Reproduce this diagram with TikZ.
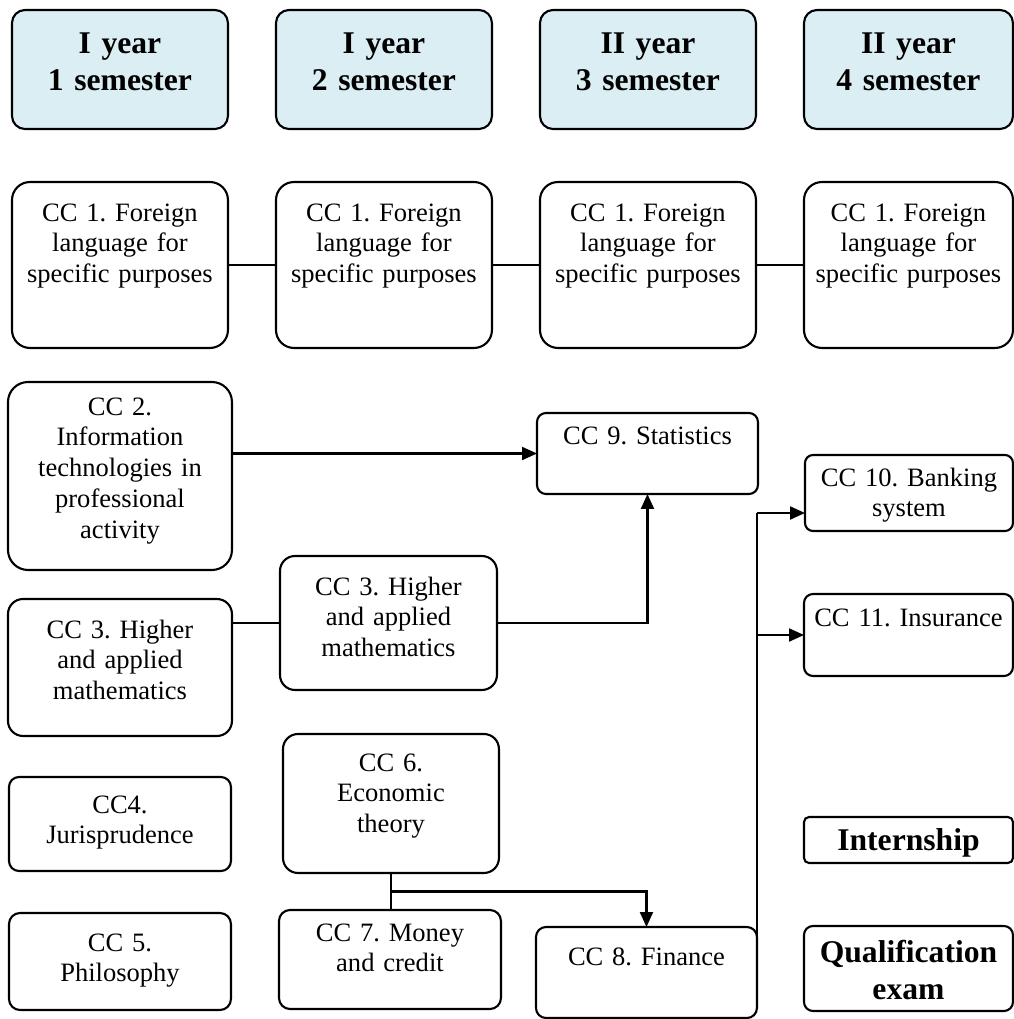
\documentclass[tikz,border=0pt]{standalone}
\usepackage{fontspec}
\setmainfont{Liberation Serif}
\frenchspacing
\usetikzlibrary{arrows.meta,calc}
\definecolor{headblue}{RGB}{218,238,243}

\begin{document}
\begin{tikzpicture}[x=0.02cm,y=-0.02cm,
  subj/.style={draw, line width=1.2pt, rounded corners=0.3cm, anchor=north west,
    inner sep=0pt, outer sep=0pt, align=center, font=\fontsize{15.1}{17.6}\selectfont},
  strong/.style={font=\fontsize{18}{21.5}\selectfont\bfseries},
  head/.style={subj, strong, fill=headblue, text width=4.32cm, text height=0.86cm,
    text depth=1.52cm, rounded corners=0.26cm},
  lang/.style={subj, text width=4.32cm, text height=0.78cm, text depth=2.54cm,
    rounded corners=0.36cm},
  link/.style={line width=1.2pt},
  flow/.style={link, -{Triangle[length=0.3cm, width=0.26cm]}}]
\useasboundingbox (0,0) rectangle (1014,1019);
% semesters
\node[head] (yr1) at (12,10) {I year\\1 semester};
\node[head] (yr2) at (276,10) {I year\\2 semester};
\node[head] (yr3) at (540,10) {II year\\3 semester};
\node[head, text width=4.18cm] (yr4) at (804,10) {II year\\4 semester};
% foreign language row
\node[lang] (lang1) at (12,182) {CC 1. Foreign\\language for\\specific purposes};
\node[lang] (lang2) at (276,182) {CC 1. Foreign\\language for\\specific purposes};
\node[lang] (lang3) at (540,182) {CC 1. Foreign\\language for\\specific purposes};
\node[lang, text width=4.18cm] (lang4) at (804,182) {CC 1. Foreign\\language for\\specific purposes};
\draw[link] (lang1) -- (lang2);
\draw[link] (lang2) -- (lang3);
\draw[link] (lang3) -- (lang4);
% first column
\node[subj, text width=4.48cm, text height=0.66cm, text depth=3.10cm, rounded corners=0.4cm]
  (it) at (8,382) {CC 2.\\Information\\technologies in\\professional\\activity};
\node[subj, text width=4.48cm, text height=0.78cm, text depth=1.96cm]
  (mathA) at (8,599) {CC 3. Higher\\and applied\\mathematics};
\node[subj, text width=4.44cm, text height=0.72cm, text depth=1.16cm, rounded corners=0.2cm]
  (law) at (9,777) {CC4.\\Jurisprudence};
\node[subj, text width=4.44cm, text height=0.76cm, text depth=1.18cm, rounded corners=0.22cm]
  (phil) at (9,913) {CC 5.\\Philosophy};
% second column
\node[subj, text width=4.34cm, text height=0.78cm, text depth=1.90cm]
  (mathB) at (280,556) {CC 3. Higher\\and applied\\mathematics};
\node[subj, text width=4.32cm, text height=0.74cm, text depth=2.04cm]
  (econ) at (283,734) {CC 6.\\Economic\\theory};
\node[subj, text width=4.44cm, text height=0.62cm, text depth=1.36cm, rounded corners=0.22cm]
  (money) at (279,910) {CC 7. Money\\and credit};
% third column
\node[subj, text width=4.42cm, text height=0.62cm, text depth=1.00cm, rounded corners=0.18cm]
  (stat) at (537,413) {CC 9. Statistics};
\node[subj, text width=4.42cm, text height=0.76cm, text depth=1.06cm, rounded corners=0.2cm]
  (fin) at (536,927) {CC 8. Finance};
% fourth column
\node[subj, text width=4.16cm, text height=0.62cm, text depth=0.90cm, rounded corners=0.16cm]
  (bank) at (805,455) {CC 10. Banking\\system};
\node[subj, text width=4.18cm, text height=0.64cm, text depth=1.00cm, rounded corners=0.18cm]
  (insur) at (804,594) {CC 11. Insurance};
\node[subj, strong, text width=4.18cm, text height=0.66cm, text depth=0.26cm, rounded corners=0.1cm]
  (intern) at (804,817) {Internship};
\node[subj, strong, text width=4.18cm, text height=0.72cm, text depth=0.98cm, rounded corners=0.18cm]
  (exam) at (804,926) {Qualification\\exam};
% links
\draw[flow] (stat.west -| it.east) -- (stat.west);
\draw[link] (mathB.west -| mathA.east) -- (mathB.west);
\draw[flow] (mathB.east) -| (stat.south);
\draw[link] (econ.south) -- (econ.south |- money.north);
\coordinate (split) at ($(econ.south)!0.5!(econ.south |- money.north)$);
\draw[flow] (split) -| (fin.north);
\coordinate (bus) at ($(fin.east |- bank.west)+(0,20)$);
\draw[link] (fin.east) -- (bus);
\draw[flow] (bus) -- (bus -| bank.west);
\draw[flow] (fin.east |- insur.west) -- (insur.west);
\end{tikzpicture}
\end{document}
